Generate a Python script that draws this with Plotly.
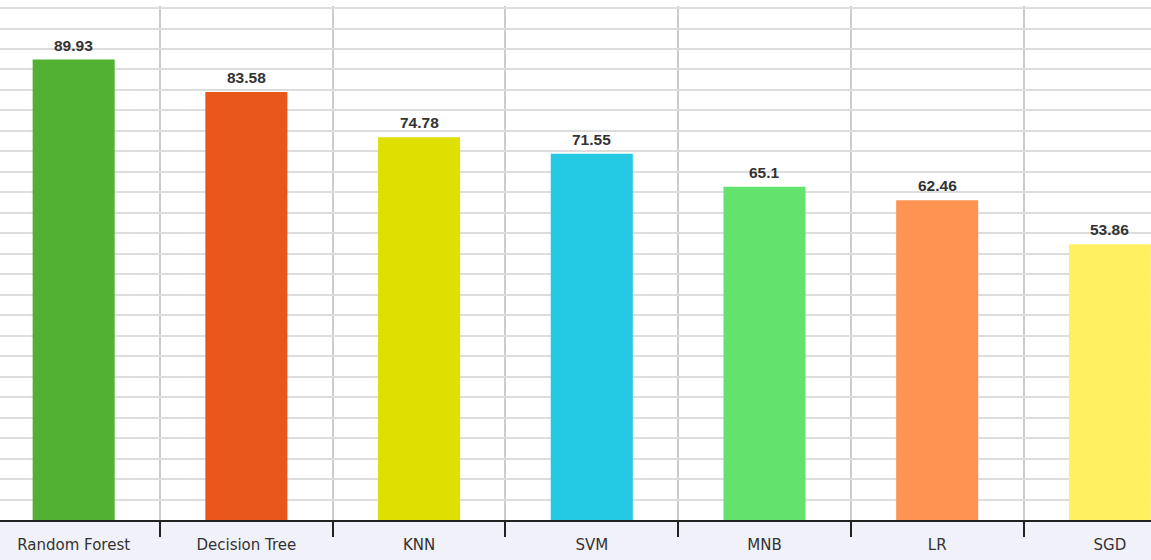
import plotly.graph_objects as go

models = ["Random Forest", "Decision Tree", "KNN", "SVM", "MNB", "LR", "SGD"]
accuracy = [89.93, 83.58, 74.78, 71.55, 65.1, 62.46, 53.86]
bar_colors = ["#52b133", "#e9561b", "#dde000", "#24cae3", "#63e36d", "#fe9452", "#fff062"]
value_labels = ["89.93", "83.58", "74.78", "71.55", "65.1", "62.46", "53.86"]

fig = go.Figure()
fig.add_trace(go.Bar(
    x=models, y=accuracy,
    marker=dict(color=bar_colors, line=dict(width=0)),
    width=0.475,
    hoverinfo="x+y",
))

for m, v, t in zip(models, accuracy, value_labels):
    fig.add_annotation(x=m, y=v, text=t, showarrow=False, yanchor="bottom",
                       yshift=4, font=dict(family="Liberation Sans, Arial", size=15.5,
                                            color="#333333", weight="bold"))

fig.add_shape(type="rect", xref="paper", yref="paper", x0=0, x1=1,
              y0=-40/514, y1=0, fillcolor="#f1f1f9", line=dict(width=0), layer="below")

fig.update_layout(
    width=1151, height=560,
    margin=dict(l=0, r=0, t=6, b=40, autoexpand=False),
    paper_bgcolor="white", plot_bgcolor="white",
    showlegend=False,
    bargap=0.525,
    xaxis=dict(
        type="category",
        range=[-0.4265, 6.238],
        tickson="boundaries",
        ticks="outside", ticklen=15, tickcolor="#222222", tickwidth=1.5,
        ticklabelstandoff=10,
        showgrid=True, gridcolor="#cccccc", gridwidth=1.5,
        showline=True, linecolor="#222222", linewidth=1.5,
        tickfont=dict(family="DejaVu Sans, Tahoma", size=15, color="#333333"),
        fixedrange=True,
    ),
    yaxis=dict(
        range=[0, 100.4], dtick=4, tick0=0,
        showticklabels=False, ticks="",
        showgrid=True, gridcolor="#dddddd", gridwidth=1.5,
        zeroline=False, showline=False,
        fixedrange=True,
    ),
)

fig.write_html("out.html", config={"displayModeBar": False},
               post_script="document.body.style.margin='0';document.body.style.padding='0';")
